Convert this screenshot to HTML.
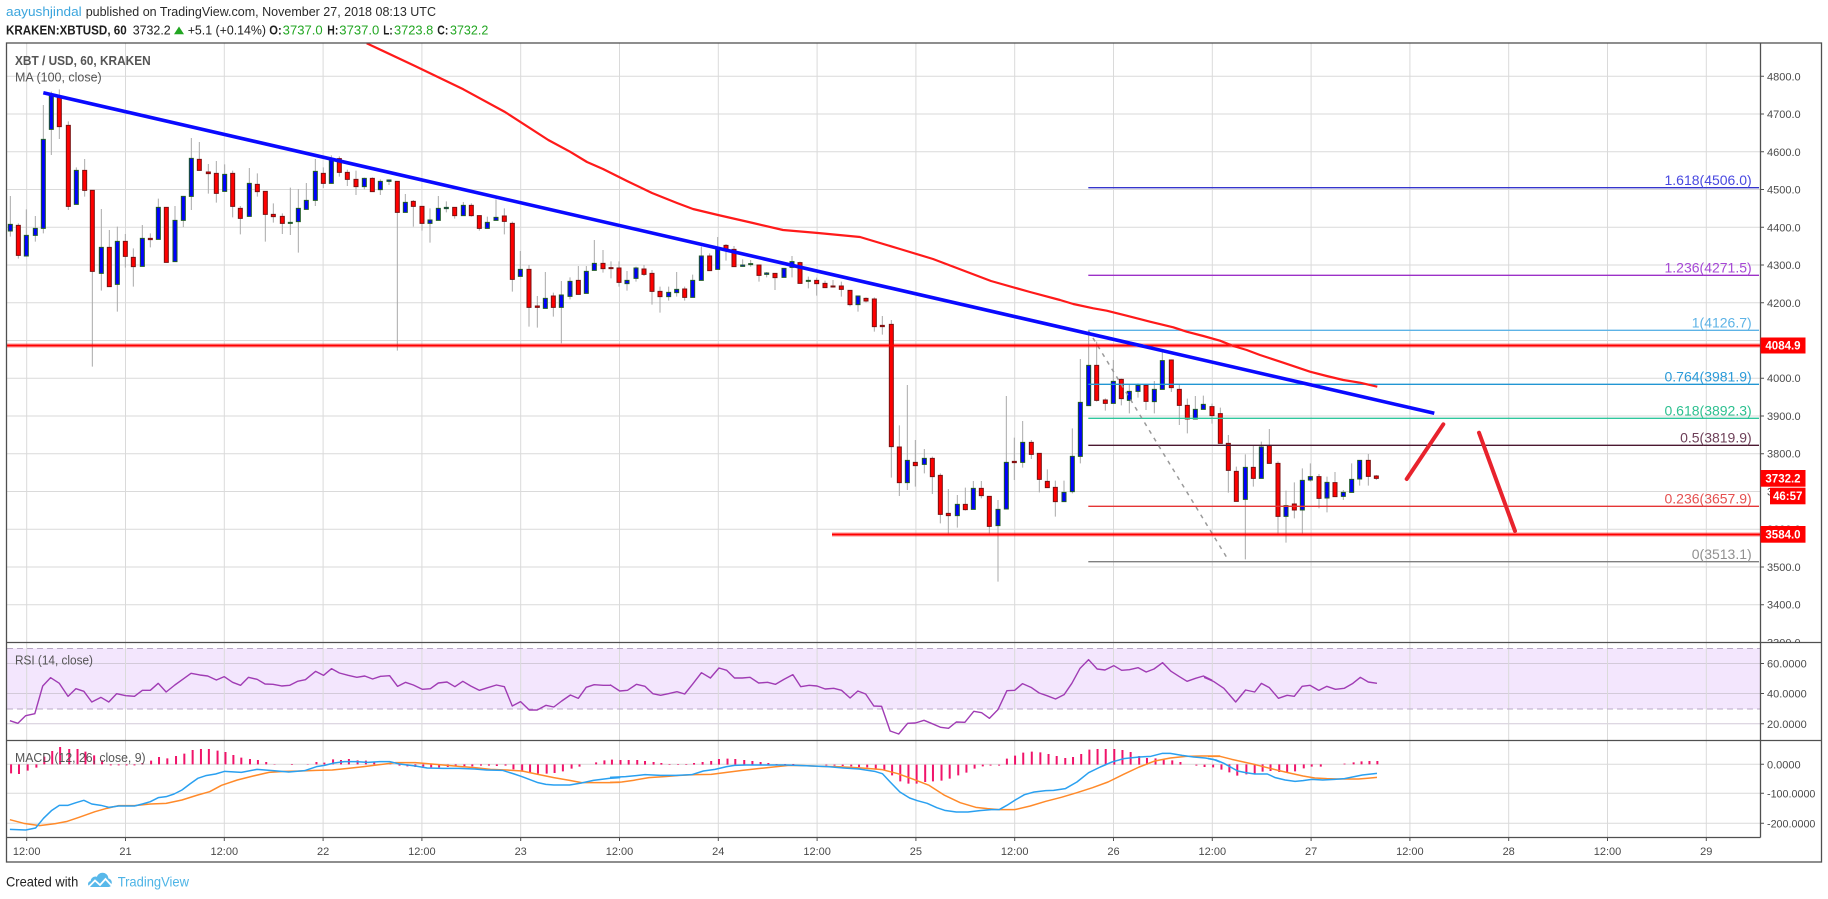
<!DOCTYPE html>
<html><head><meta charset="utf-8"><style>
html,body{margin:0;padding:0;background:#fff;}
svg{display:block;}
text{font-family:"Liberation Sans",Arial,sans-serif;}
</style></head><body>
<svg width="1828" height="899" viewBox="0 0 1828 899" xmlns="http://www.w3.org/2000/svg">
<defs>
<clipPath id="cm"><rect x="7" y="43" width="1753" height="599.5"/></clipPath>
<clipPath id="cax"><rect x="1761" y="43" width="60" height="599"/></clipPath>
</defs>
<rect width="1828" height="899" fill="#fff"/>

<!-- Header -->
<text x="6" y="16" font-size="13" fill="#3ba5dd" textLength="75.7" lengthAdjust="spacingAndGlyphs">aayushjindal</text>
<text x="85.7" y="16" font-size="13" fill="#2a2a2a" textLength="350.3" lengthAdjust="spacingAndGlyphs">published on TradingView.com, November 27, 2018 08:13 UTC</text>
<text x="6" y="34.3" font-size="13" font-weight="bold" fill="#1e1e1e" textLength="120.7" lengthAdjust="spacingAndGlyphs">KRAKEN:XBTUSD, 60</text>
<text x="132.7" y="34.3" font-size="13" fill="#1e1e1e" textLength="38" lengthAdjust="spacingAndGlyphs">3732.2</text>
<polygon points="174,34.3 184,34.3 179,26.5" fill="#22a622"/>
<text x="187.7" y="34.3" font-size="13" fill="#1e1e1e" textLength="78.3" lengthAdjust="spacingAndGlyphs">+5.1 (+0.14%)</text>
<text x="269.3" y="34.3" font-size="13" font-weight="bold" fill="#1e1e1e" textLength="12.4" lengthAdjust="spacingAndGlyphs">O:</text>
<text x="282.7" y="34.3" font-size="13" fill="#22a622" textLength="40" lengthAdjust="spacingAndGlyphs">3737.0</text>
<text x="327.3" y="34.3" font-size="13" font-weight="bold" fill="#1e1e1e" textLength="11" lengthAdjust="spacingAndGlyphs">H:</text>
<text x="339.3" y="34.3" font-size="13" fill="#22a622" textLength="40" lengthAdjust="spacingAndGlyphs">3737.0</text>
<text x="383.3" y="34.3" font-size="13" font-weight="bold" fill="#1e1e1e" textLength="9.4" lengthAdjust="spacingAndGlyphs">L:</text>
<text x="394" y="34.3" font-size="13" fill="#22a622" textLength="39.3" lengthAdjust="spacingAndGlyphs">3723.8</text>
<text x="437.3" y="34.3" font-size="13" font-weight="bold" fill="#1e1e1e" textLength="11" lengthAdjust="spacingAndGlyphs">C:</text>
<text x="450" y="34.3" font-size="13" fill="#22a622" textLength="38.3" lengthAdjust="spacingAndGlyphs">3732.2</text>

<!-- RSI band -->
<rect x="7" y="648.5" width="1753" height="60.5" fill="#f3e6fd"/>

<!-- Horizontal gridlines main -->
<g stroke="#dadada" stroke-width="1">
<path d="M7 76.3H1760 M7 114H1760 M7 151.8H1760 M7 189.5H1760 M7 227.3H1760 M7 265H1760 M7 302.8H1760 M7 340.5H1760 M7 378.2H1760 M7 416H1760 M7 453.7H1760 M7 491.5H1760 M7 529.2H1760 M7 567H1760 M7 604.7H1760"/>
<path d="M7 663.5H1760 M7 693.5H1760 M7 723.8H1760" stroke="#d3cad9"/>
<path d="M7 764.3H1760 M7 793.3H1760 M7 823.3H1760"/>
<path d="M26.7 43V837 M125.5 43V837 M224.3 43V837 M323.1 43V837 M421.9 43V837 M520.7 43V837 M619.5 43V837 M718.3 43V837 M817.1 43V837 M915.9 43V837 M1014.7 43V837 M1113.5 43V837 M1212.3 43V837 M1311.1 43V837 M1409.9 43V837 M1508.7 43V837 M1607.5 43V837 M1706.3 43V837"/>
</g>
<path d="M7 648.5H1760 M7 709H1760" stroke="#b9a9c6" stroke-width="1" stroke-dasharray="6,4"/>

<!-- Candles -->
<g clip-path="url(#cm)">
<g transform="translate(0,80) scale(0.333333)">
<path stroke="#aaaaaa" stroke-width="3" fill="none" d="M31 348V470 M55 430V536 M79 388V530 M106 408V485 M130 75V460 M154 35V225 M178 28V177 M205 124V390 M229 262V373 M254 237V350 M277 331V860 M304 387V632 M328 450V620 M352 440V695 M376 462V563 M400 505V620 M427 435V560 M451 460V502 M475 356V478 M499 382V547 M525 378V545 M550 349V441 M574 174V390 M598 186V271 M625 252V341 M649 243V368 M674 253V334 M698 272V412 M721 378V463 M748 264V409 M772 280V350 M796 334V485 M820 370V428 M847 400V462 M871 323V465 M895 327V518 M919 309V388 M946 237V378 M970 262V324 M994 226V310 M1018 229V290 M1042 269V318 M1068 272V345"/>
<path fill="#0000ff" stroke="#1f5a26" stroke-width="3" d="M25 433h12V453h-12z M73 466h12V528h-12z M100 445h12V466h-12z M124 178h12V445h-12z M148 48h12V148h-12z M223 271h12V373h-12z M298 502h12V580h-12z M346 484h12V613h-12z M421 475h12V559h-12z M469 382h12V478h-12z M519 421h12V545h-12z M544 349h12V421h-12z M568 235h12V349h-12z M668 283h12V334h-12z M742 310h12V409h-12z M865 427h12V430h-12z M889 385h12V425h-12z M913 361h12V388h-12z M940 274h12V361h-12z M988 237h12V310h-12z"/>
<path fill="#ff0000" stroke="#7a1010" stroke-width="3" d="M49 436h12V526h-12z M172 48h12V140h-12z M199 136h12V379h-12z M248 271h12V331h-12z M271 331h12V574h-12z M322 502h12V620h-12z M370 484h12V529h-12z M394 532h12V560h-12z M445 475h12V479h-12z M493 382h12V547h-12z M592 238h12V271h-12z M619 276h12V281h-12z M643 280h12V340h-12z M692 280h12V379h-12z M715 385h12V415h-12z M766 313h12V335h-12z M790 334h12V403h-12z M814 403h12V410h-12z M841 409h12V430h-12z M964 280h12V310h-12z M1012 236h12V277h-12z M1036 277h12V298h-12z M1062 298h12V320h-12z"/>
</g>
<g transform="translate(360,140) scale(0.333333)">
<path stroke="#aaaaaa" stroke-width="3" fill="none" d="M13 113V148 M37 112V155 M61 118V165 M87 118V135 M112 124V632 M136 162V217 M160 180V260 M186 199V272 M210 205V308 M235 168V241 M259 184V217 M284 202V236 M310 186V227 M334 190V230 M358 227V272 M382 230V265 M408 178V241 M433 205V283 M457 245V455 M481 333V410 M507 375V560 M532 468V563 M556 396V505 M580 458V530 M604 423V610 M630 412V478 M655 378V463 M679 378V460 M703 300V391 M729 330V398 M753 364V415 M777 364V440 M801 393V452 M828 380V425 M852 375V408 M876 390V494 M900 440V518 M926 440V482 M950 396V470 M974 440V482 M998 404V472 M1024 320V421 M1049 340V392 M1073 291V388 M1098 312V362 M1122 318V380 M1148 358V380 M1172 360V380 M1197 375V425 M1220 396V412 M1245 400V450 M1272 385V412 M1296 348V412 M1320 365V430 M1345 410V445 M1370 413V467 M1395 422V443 M1419 420V443 M1444 425V470 M1470 451V499 M1494 468V515"/>
<path fill="#0000ff" stroke="#1f5a26" stroke-width="3" d="M7 115h12V140h-12z M55 124h12V149h-12z M81 120h12V124h-12z M130 187h12V217h-12z M204 240h12V250h-12z M229 205h12V241h-12z M253 202h12V206h-12z M304 196h12V227h-12z M376 247h12V265h-12z M402 232h12V241h-12z M475 388h12V409h-12z M550 475h12V505h-12z M598 465h12V502h-12z M624 424h12V469h-12z M673 394h12V460h-12z M697 370h12V391h-12z M795 421h12V431h-12z M822 384h12V415h-12z M920 457h12V470h-12z M944 448h12V458h-12z M992 421h12V472h-12z M1018 348h12V421h-12z M1067 325h12V388h-12z M1142 375h12V379h-12z M1166 371h12V374h-12z M1214 399h12V403h-12z M1266 385h12V412h-12z M1290 365h12V382h-12z M1339 421h12V424h-12z M1488 468h12V494h-12z"/>
<path fill="#ff0000" stroke="#7a1010" stroke-width="3" d="M31 115h12V155h-12z M106 124h12V217h-12z M154 184h12V199h-12z M180 199h12V250h-12z M278 202h12V227h-12z M328 196h12V227h-12z M352 227h12V265h-12z M427 228h12V244h-12z M451 250h12V418h-12z M501 388h12V502h-12z M526 498h12V502h-12z M574 468h12V502h-12z M649 421h12V463h-12z M723 370h12V386h-12z M747 383h12V386h-12z M771 384h12V427h-12z M846 387h12V403h-12z M870 400h12V454h-12z M894 454h12V470h-12z M968 447h12V472h-12z M1043 348h12V392h-12z M1092 316h12V330h-12z M1116 328h12V380h-12z M1191 375h12V406h-12z M1239 400h12V413h-12z M1314 368h12V430h-12z M1364 421h12V431h-12z M1389 430h12V443h-12z M1413 438h12V441h-12z M1438 438h12V448h-12z M1464 451h12V494h-12z"/>
</g>
<g transform="translate(860,300) scale(0.333333)">
<path stroke="#aaaaaa" stroke-width="3" fill="none" d="M18 -8V8 M43 -8V95 M67 48V104 M94 60V533 M118 376V588 M142 255V570 M166 420V560 M193 447V520 M217 470V582 M241 520V670 M265 567V700 M292 585V683 M316 563V632 M340 543V628 M364 543V595 M388 589V700 M414 600V845 M439 288V627 M463 413V540 M488 363V503 M514 420V477 M538 460V577 M562 508V563 M586 542V650 M612 542V605 M637 385V580 M661 177V490 M686 92V317 M710 125V305 M736 295V332 M760 180V310 M784 236V316 M808 253V340 M834 250V293 M858 253V330 M883 243V340 M907 150V268 M934 178V276 M958 253V375 M982 296V400 M1006 288V357 M1030 287V328 M1056 311V371 M1081 323V430 M1105 405V578 M1129 500V604 M1156 463V778 M1180 435V560 M1204 425V535 M1228 387V490 M1254 484V700 M1278 572V728 M1303 547V655 M1327 505V700 M1351 490V545 M1377 522V625 M1401 530V637 M1425 516V590 M1450 570V600 M1475 490V577 M1499 480V557"/>
<path fill="#0000ff" stroke="#1f5a26" stroke-width="3" d="M136 481h12V548h-12z M187 475h12V493h-12z M286 613h12V647h-12z M334 565h12V628h-12z M408 628h12V677h-12z M433 487h12V627h-12z M482 427h12V487h-12z M606 577h12V605h-12z M631 469h12V575h-12z M655 307h12V469h-12z M680 196h12V317h-12z M754 244h12V310h-12z M802 274h12V301h-12z M828 256h12V274h-12z M877 268h12V305h-12z M901 182h12V268h-12z M1000 328h12V357h-12z M1024 313h12V328h-12z M1150 502h12V598h-12z M1198 441h12V535h-12z M1272 617h12V649h-12z M1321 541h12V630h-12z M1345 530h12V540h-12z M1395 547h12V594h-12z M1444 577h12V589h-12z M1469 538h12V577h-12z M1493 481h12V537h-12z"/>
<path fill="#ff0000" stroke="#7a1010" stroke-width="3" d="M12 -5h12V3h-12z M37 -3h12V80h-12z M61 76h12V80h-12z M88 73h12V440h-12z M112 441h12V548h-12z M160 487h12V497h-12z M211 475h12V530h-12z M235 526h12V643h-12z M259 640h12V647h-12z M310 613h12V629h-12z M358 565h12V587h-12z M382 589h12V679h-12z M457 484h12V488h-12z M508 427h12V463h-12z M532 460h12V538h-12z M556 544h12V563h-12z M580 562h12V605h-12z M704 196h12V301h-12z M730 300h12V310h-12z M778 238h12V296h-12z M852 256h12V304h-12z M928 180h12V263h-12z M952 268h12V316h-12z M976 316h12V357h-12z M1050 320h12V347h-12z M1075 341h12V430h-12z M1099 430h12V511h-12z M1123 514h12V604h-12z M1174 502h12V535h-12z M1222 437h12V490h-12z M1248 490h12V649h-12z M1297 612h12V630h-12z M1371 530h12V595h-12z M1419 548h12V590h-12z"/>
</g>
<g transform="translate(1340,300) scale(0.333333)">
<path stroke="#aaaaaa" stroke-width="3" fill="none" d="M85 462V557 M109 525V540"/>
<path fill="#ff0000" stroke="#7a1010" stroke-width="3" d="M79 481h12V529h-12z M103 528h12V535h-12z"/>
</g>

<!-- Fibonacci -->
<g stroke-width="1.3" fill="none">
<path d="M1088.3 187.7H1759" stroke="#3535cc"/>
<path d="M1088.3 275.3H1759" stroke="#9c30c8"/>
<path d="M1088.3 330.3H1759" stroke="#5db3e6"/>
<path d="M1088.3 384.3H1759" stroke="#2196d3"/>
<path d="M1088.3 418.3H1759" stroke="#2ec79d"/>
<path d="M1088.3 445.3H1759" stroke="#4a1830"/>
<path d="M1088.3 506.3H1759" stroke="#e53535"/>
<path d="M1088.3 561.7H1759" stroke="#808080"/>
</g>
<path d="M1088.3 330.3L1228.3 560" stroke="#9a9a9a" stroke-width="1.5" stroke-dasharray="4,5" fill="none"/>
<g font-size="14" text-anchor="end">
<text x="1751.7" y="185" fill="#4848e0">1.618(4506.0)</text>
<text x="1751.7" y="272.7" fill="#a648d6">1.236(4271.5)</text>
<text x="1751.7" y="327.7" fill="#5db3e6">1(4126.7)</text>
<text x="1751.7" y="381.7" fill="#2a9ad8">0.764(3981.9)</text>
<text x="1751.7" y="415.7" fill="#2dc090">0.618(3892.3)</text>
<text x="1751.7" y="442.7" fill="#6d3f58">0.5(3819.9)</text>
<text x="1751.7" y="503.7" fill="#e55050">0.236(3657.9)</text>
<text x="1751.7" y="559.1" fill="#909090">0(3513.1)</text>
</g>

<!-- Horizontal red levels -->
<path d="M7 345.5H1760 M832 534.5H1760" stroke="rgba(255,0,0,0.3)" stroke-width="4.5" fill="none"/>
<path d="M7 345.5H1760 M832 534.5H1760" stroke="#ff0000" stroke-width="2" fill="none"/>

<!-- MA 100 -->
<polyline fill="none" stroke="#ff1a1a" stroke-width="2.2" stroke-linejoin="round" points="366.7,43.3 415,66 463.3,89.3 505,112 548.3,140 570,151.7 587,162 603,169 627,181 652,193 677,203 693,209 718,215 753,223 783,230 818,233 860,237 900,249 933,259 991,281 1030,292 1060,300 1073.3,304 1093.3,308.3 1106.7,310.7 1126.7,315.7 1150,321.7 1173.3,327.3 1186.7,331.7 1203.3,336 1220,340.7 1233.3,346 1246.7,350 1260,355 1283.3,362.7 1310,371.7 1326.7,376 1343.3,380 1360,382.7 1377.3,386.7"/>

<!-- Blue trendline -->
<line x1="43.3" y1="92.7" x2="1434.3" y2="413.3" stroke="#0a0aff" stroke-width="3.6" stroke-linecap="butt"/>

<!-- Red arrows -->
<g stroke="#e8232d" stroke-width="4" stroke-linecap="round" fill="none">
<line x1="1406.7" y1="479" x2="1443.3" y2="424.3"/>
<line x1="1479" y1="432.7" x2="1515" y2="531"/>
</g>

<!-- Legend -->
<text x="15" y="65" font-size="13" font-weight="bold" fill="#555" textLength="135.7" lengthAdjust="spacingAndGlyphs">XBT / USD, 60, KRAKEN</text>
<text x="15" y="81.7" font-size="13" fill="#555" textLength="86.7" lengthAdjust="spacingAndGlyphs">MA (100, close)</text>
</g>

<!-- RSI line -->
<g fill="none" stroke="#a03cb4" stroke-width="1.4" stroke-linejoin="round">
<polyline vector-effect="non-scaling-stroke" transform="translate(0,600) scale(0.39557,0.333333)" points="25,362 45,370 65,347 88,341 108,258 128,233 150,250 172,289 192,266 212,274 232,306 255,292 275,306 295,281 318,287 340,289 360,271 380,271 400,250 420,276 442,255 462,238 483,220 505,225 525,228 547,240 567,230 588,247 608,256 628,232 650,238 670,252 690,253 712,258 732,256 752,244 772,239 798,214 818,226 838,206 858,219 880,226 902,232 922,228 942,237 962,229 985,227 1005,259 1025,247 1045,255 1068,268 1088,266 1108,249 1130,246 1150,260 1170,244 1190,258 1212,271 1233,263 1255,255 1275,260 1295,318 1316,305 1338,330 1358,330 1380,316 1400,321 1420,303 1442,285 1462,295 1482,262 1502,254 1525,256 1545,256"/>
<polyline vector-effect="non-scaling-stroke" transform="translate(610,642) scale(0.38911,0.333333)" points="0,128 25,147 45,145 68,127 90,133 110,155 130,160 150,155 172,149 192,156 212,127 235,92 258,108 280,78 300,85 320,108 340,108 360,106 382,123 405,121 425,127 447,112 470,98 490,134 512,130 532,132 553,141 575,139 595,145 617,168 637,147 657,156 678,192 698,193 720,267 742,276 765,244 785,243 807,235 828,245 850,256 870,259 890,240 912,241 935,208 955,212 975,229 997,203 1020,146 1040,145 1060,125 1082,136 1103,153 1123,161 1145,171 1167,158 1187,124 1208,79 1230,53 1252,81 1272,84 1295,71 1315,85 1335,83 1357,77 1378,90 1398,81 1420,62 1442,88 1462,103 1483,118 1505,109 1525,102 1548,115"/>
<polyline vector-effect="non-scaling-stroke" transform="translate(1208,600) scale(0.39573,0.333333)" points="-10,232 0,237 15,245 40,265 70,306 95,270 118,276 135,250 155,263 178,295 200,286 218,289 238,259 258,256 280,271 300,259 322,268 344,265 365,251 385,232 405,246 427,250"/>
</g>
<text x="15" y="664.5" font-size="13" fill="#555" textLength="78" lengthAdjust="spacingAndGlyphs">RSI (14, close)</text>

<!-- MACD histogram -->
<g fill="none" stroke="#f0146a" stroke-width="2">
<path vector-effect="non-scaling-stroke" transform="translate(0,600) scale(0.39557,0.333333)" d="M28 493V520 M48 493V522 M70 493V512 M92 493V503 M112 493V470 M132 493V453 M152 493V441 M175 493V447 M196 493V447 M216 493V455 M238 493V466 M258 493V481 M280 493V496 M300 493V496 M320 493V496 M340 493V496 M360 493V489 M382 493V482 M402 493V471 M423 493V475 M445 493V468 M466 493V461 M487 493V450 M508 493V447 M528 493V447 M550 493V452 M570 493V456 M590 493V465 M610 493V473 M632 493V477 M652 493V480 M673 493V486 M694 493V492 M738 493V495 M778 493V492 M800 493V486 M820 493V488 M842 493V478 M862 493V480 M882 493V477 M904 493V481 M925 493V482 M946 493V487 M987 493V494 M1010 493V497 M1030 493V499 M1050 493V501 M1070 493V500 M1090 493V502 M1110 493V502 M1132 493V501 M1152 493V499 M1174 493V499 M1194 493V499 M1216 493V497 M1236 493V497 M1256 493V498 M1278 493V497 M1298 493V508 M1320 493V515 M1340 493V518 M1360 493V521 M1382 493V521 M1402 493V519 M1423 493V514 M1445 493V506 M1465 493V500 M1507 493V487 M1528 493V481"/>
<path vector-effect="non-scaling-stroke" transform="translate(610,642) scale(0.38911,0.333333)" d="M5 368V353 M27 368V354 M48 368V354 M70 368V354 M90 368V357 M112 368V360 M132 368V363 M153 368V366 M175 368V366 M196 368V366 M216 368V363 M238 368V360 M260 368V357 M280 368V351 M302 368V350 M322 368V351 M345 368V354 M366 368V357 M387 368V360 M407 368V363 M428 368V366 M450 368V366 M471 368V366 M556 368V370 M577 368V371 M598 368V372 M620 368V373 M640 368V375 M661 368V376 M683 368V381 M705 368V385 M725 368V400 M746 368V418 M767 368V425 M788 368V425 M810 368V420 M830 368V418 M852 368V416 M873 368V410 M895 368V400 M916 368V392 M937 368V380 M958 368V373 M978 368V371 M1000 368V371 M1020 368V350 M1041 368V341 M1062 368V332 M1084 368V329 M1106 368V331 M1127 368V336 M1148 368V342 M1170 368V348 M1190 368V345 M1211 368V336 M1232 368V323 M1253 368V321 M1274 368V321 M1296 368V321 M1317 368V324 M1338 368V330 M1360 368V342 M1380 368V348 M1402 368V349 M1423 368V353 M1445 368V355 M1466 368V360 M1507 368V371 M1528 368V375 M1550 368V376"/>
<path vector-effect="non-scaling-stroke" transform="translate(1208,600) scale(0.39573,0.333333)" d="M34 493V509 M54 493V517 M74 493V527 M97 493V523 M118 493V521 M138 493V515 M158 493V513 M180 493V516 M200 493V516 M220 493V514 M242 493V505 M262 493V500 M285 493V500 M345 493V491 M368 493V487 M388 493V484 M408 493V483 M428 493V483"/>
</g>

<!-- MACD lines -->
<g fill="none" stroke-width="1.5" stroke-linejoin="round">
<polyline vector-effect="non-scaling-stroke" stroke="#ff8a2a" transform="translate(0,600) scale(0.39557,0.333333)" points="25,659 60,670 100,677 140,671 170,664 200,652 240,635 270,625 300,617 340,617 380,612 420,610 460,600 500,585 530,575 560,556 600,540 640,528 680,517 720,514 760,513 800,511 840,510 880,505 920,500 960,494 1000,488 1050,488 1080,491 1120,495 1160,499 1200,503 1240,508 1280,510 1320,513 1360,523 1400,533 1440,541 1470,548 1500,548 1540,548 1568,547"/>
<polyline vector-effect="non-scaling-stroke" stroke="#ff8a2a" transform="translate(610,642) scale(0.38911,0.333333)" points="0,421 30,420 60,415 100,407 140,404 180,400 220,398 260,397 300,391 340,385 380,380 420,375 460,370 500,371 540,373 580,374 620,376 660,379 700,383 740,395 780,412 820,430 860,460 900,482 940,496 970,500 1000,503 1040,503 1080,492 1120,478 1160,466 1200,452 1240,437 1280,420 1320,397 1360,375 1400,357 1440,348 1480,343 1520,342 1568,342"/>
<polyline vector-effect="non-scaling-stroke" stroke="#ff8a2a" transform="translate(1208,600) scale(0.39573,0.333333)" points="0,469 30,469 60,478 90,486 120,494 150,503 180,512 210,520 240,528 270,534 300,536 330,537 360,537 380,537 400,535 427,532"/>
<polyline vector-effect="non-scaling-stroke" stroke="#2aa0f0" transform="translate(0,600) scale(0.39557,0.333333)" points="25,688 65,690 90,684 110,655 130,632 150,616 172,616 192,608 212,601 232,612 255,616 275,622 300,618 340,618 360,612 380,605 400,593 420,590 440,582 460,570 480,552 500,535 520,527 545,522 568,514 610,517 650,508 690,512 730,516 770,512 800,500 820,496 845,489 870,485 900,485 930,487 960,485 985,485 1010,492 1050,498 1080,504 1120,505 1160,505 1200,507 1230,510 1270,511 1300,522 1320,530 1360,548 1380,553 1400,555 1440,555 1470,549 1500,541 1540,535 1568,533"/>
<polyline vector-effect="non-scaling-stroke" stroke="#2aa0f0" transform="translate(610,642) scale(0.38911,0.333333)" points="0,406 40,404 90,398 130,400 170,400 210,398 240,387 270,382 300,374 320,370 350,369 400,369 450,369 480,370 520,372 560,374 600,378 640,381 680,388 700,395 720,420 745,450 770,468 790,476 815,484 840,497 860,505 890,510 920,510 950,506 980,503 1000,503 1020,490 1040,475 1065,458 1090,450 1120,446 1140,445 1170,440 1200,420 1230,392 1260,375 1290,360 1320,350 1360,345 1390,343 1420,334 1440,334 1470,340 1500,345 1530,348 1550,352 1568,360"/>
<polyline vector-effect="non-scaling-stroke" stroke="#2aa0f0" transform="translate(1208,600) scale(0.39573,0.333333)" points="0,476 20,480 40,490 75,513 95,518 118,522 150,522 170,533 195,540 220,544 240,542 262,538 290,540 320,538 345,536 370,530 390,525 427,520"/>
</g>
<text x="15" y="762" font-size="13" fill="#555" textLength="130.6" lengthAdjust="spacingAndGlyphs">MACD (12, 26, close, 9)</text>

<!-- Frame -->
<g stroke="#505050" stroke-width="1.3" fill="none">
<rect x="6.5" y="43" width="1815" height="819"/>
<path d="M1760.5 43V837.5 M6.5 837.5H1760.5 M6.5 642.5H1821.5 M6.5 740.5H1821.5"/>
</g>
<path stroke="#505050" stroke-width="1" d="M26.7 837V841 M125.5 837V841 M224.3 837V841 M323.1 837V841 M421.9 837V841 M520.7 837V841 M619.5 837V841 M718.3 837V841 M817.1 837V841 M915.9 837V841 M1014.7 837V841 M1113.5 837V841 M1212.3 837V841 M1311.1 837V841 M1409.9 837V841 M1508.7 837V841 M1607.5 837V841 M1706.3 837V841 M1760 76.3H1764 M1760 114H1764 M1760 151.8H1764 M1760 189.5H1764 M1760 227.3H1764 M1760 265H1764 M1760 302.8H1764 M1760 378.2H1764 M1760 416H1764 M1760 453.7H1764 M1760 567H1764 M1760 604.7H1764 M1760 663.5H1764 M1760 693.5H1764 M1760 723.8H1764 M1760 764.3H1764 M1760 793.3H1764 M1760 823.3H1764"/>

<!-- Price axis labels -->
<g font-size="11" fill="#4a4a4a">
<text x="1767" y="80.3">4800.0</text>
<text x="1767" y="118">4700.0</text>
<text x="1767" y="155.8">4600.0</text>
<text x="1767" y="193.5">4500.0</text>
<text x="1767" y="231.3">4400.0</text>
<text x="1767" y="269">4300.0</text>
<text x="1767" y="306.8">4200.0</text>
<text x="1767" y="382.2">4000.0</text>
<text x="1767" y="420">3900.0</text>
<text x="1767" y="457.7">3800.0</text>
<text x="1767" y="495.5">3700.0</text>
<text x="1767" y="533.2">3600.0</text>
<text x="1767" y="571">3500.0</text>
<text x="1767" y="608.7">3400.0</text>
<text x="1767" y="646.5" clip-path="url(#cax)">3300.0</text>
<text x="1767" y="667.5">60.0000</text>
<text x="1767" y="697.5">40.0000</text>
<text x="1767" y="727.8">20.0000</text>
<text x="1767" y="768.3">0.0000</text>
<text x="1767" y="797.3" textLength="48.4" lengthAdjust="spacingAndGlyphs">-100.0000</text>
<text x="1767" y="827.3" textLength="48.4" lengthAdjust="spacingAndGlyphs">-200.0000</text>
</g>

<!-- Price label boxes -->
<g font-size="11.5" font-weight="bold" fill="#fff" text-anchor="middle">
<rect x="1760.5" y="337.5" width="45" height="16" fill="#ff0000"/>
<text x="1783" y="349.7">4084.9</text>
<rect x="1760.5" y="470" width="45" height="16.7" fill="#ff0000"/>
<text x="1783" y="482.5">3732.2</text>
<rect x="1770" y="487.7" width="35.5" height="16.6" fill="#ff0000"/>
<text x="1787.7" y="500.2">46:57</text>
<rect x="1760.5" y="526" width="45" height="16.7" fill="#ff0000"/>
<text x="1783" y="538.5">3584.0</text>
</g>

<!-- X axis labels -->
<g font-size="11" fill="#4a4a4a" text-anchor="middle">
<text x="26.7" y="855">12:00</text>
<text x="125.5" y="855">21</text>
<text x="224.3" y="855">12:00</text>
<text x="323.1" y="855">22</text>
<text x="421.9" y="855">12:00</text>
<text x="520.7" y="855">23</text>
<text x="619.5" y="855">12:00</text>
<text x="718.3" y="855">24</text>
<text x="817.1" y="855">12:00</text>
<text x="915.9" y="855">25</text>
<text x="1014.7" y="855">12:00</text>
<text x="1113.5" y="855">26</text>
<text x="1212.3" y="855">12:00</text>
<text x="1311.1" y="855">27</text>
<text x="1409.9" y="855">12:00</text>
<text x="1508.7" y="855">28</text>
<text x="1607.5" y="855">12:00</text>
<text x="1706.3" y="855">29</text>
</g>

<!-- Footer -->
<text x="6" y="886.5" font-size="14" fill="#222" textLength="72.3" lengthAdjust="spacingAndGlyphs">Created with</text>
<g fill="#58b8ea">
<circle cx="95.5" cy="881.5" r="5"/>
<circle cx="102.5" cy="878.5" r="5.8"/>
<circle cx="107.5" cy="882.5" r="4.3"/>
<rect x="88" y="881" width="23.5" height="6" rx="3"/>
</g>
<polyline points="89,886.5 95,880.5 100,885 105.5,879 111.5,885.5" fill="none" stroke="#fff" stroke-width="1.8"/>
<text x="117.7" y="886.5" font-size="14" fill="#4db4e6" textLength="71.3" lengthAdjust="spacingAndGlyphs">TradingView</text>
</svg>
</body></html>
